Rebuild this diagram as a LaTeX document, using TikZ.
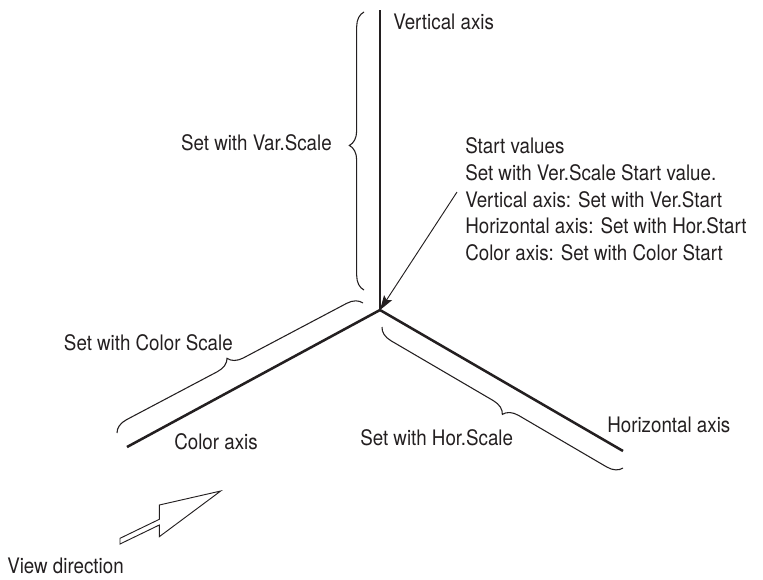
\documentclass[tikz,border=0pt]{standalone}
\usepackage{fontspec}
\setmainfont{TeX Gyre Heros}[FakeStretch=0.88]
\usetikzlibrary{decorations.pathreplacing,arrows.meta}
\definecolor{ink}{HTML}{231F20}
\begin{document}
\begin{tikzpicture}[x=0.75pt,y=-0.75pt,
  lbl/.style={inner sep=0pt,text=ink,font=\fontsize{16}{20}\selectfont},
  axisline/.style={draw=ink,line width=1.9pt},
  bracedeco/.style={draw=ink,line width=0.8pt,decorate,
    decoration={brace,amplitude=11pt,aspect=#1}},
  thinline/.style={draw=ink,line width=0.7pt}]
\useasboundingbox (0,0) rectangle (763,579);
% axes
\coordinate (O) at (380,310);
\coordinate (vtop) at (380,10);
\coordinate (cend) at (127,447);
\coordinate (hend) at (623,451);
\draw[axisline] (vtop) -- (O);
\draw[axisline] (O) -- (cend);
\draw[axisline] (O) -- (hend);
% braces
\coordinate (vb1) at (364,290);
\coordinate (vb2) at (364,12);
\draw[bracedeco=0.52] (vb1) -- (vb2);
\coordinate (cb1) at (117,433);
\coordinate (cb2) at (363,303);
\draw[bracedeco=0.475] (cb1) -- (cb2);
\coordinate (hb1) at (623,468);
\coordinate (hb2) at (382,327);
\draw[bracedeco=0.47] (hb1) -- (hb2);
% labels
\node[lbl,anchor=base west] (vlab) at (393,29) {Vertical axis};
\node[lbl,anchor=base east] (vscale) at (332,150) {Set with Var.Scale};
\node[lbl,anchor=base east] (cscale) at (233,350) {Set with Color Scale};
\node[lbl,anchor=base west] (clab) at (174,449) {Color axis};
\node[lbl,anchor=base west] (hscale) at (360,445) {Set with Hor.Scale};
\node[lbl,anchor=base west] (hlab) at (607,432) {Horizontal axis};
\node[lbl,anchor=base west] (view) at (7,573) {View direction};
% start values block
\node[lbl,anchor=base west] (sv1) at (465,153) {Start values};
\node[lbl,anchor=base west] (sv2) at (465,180) {Set with Ver.Scale Start value.};
\node[lbl,anchor=base west] (sv3) at (465,207) {Vertical axis: Set with Ver.Start};
\node[lbl,anchor=base west] (sv4) at (465,233) {Horizontal axis: Set with Hor.Start};
\node[lbl,anchor=base west] (sv5) at (465,260) {Color axis: Set with Color Start};
% pointer to origin
\coordinate (astart) at (457,192);
\draw[thinline,-{Stealth[length=11pt,width=7pt,inset=2pt]}] (astart) -- (O);
% view direction hollow arrow
\draw[thinline,line join=miter] (120,538.3) -- (159.3,519.3) -- (159.3,505) -- (220.7,491)
  -- (159.3,536.7) -- (159.3,525) -- (120,544) -- cycle;
\end{tikzpicture}
\end{document}
